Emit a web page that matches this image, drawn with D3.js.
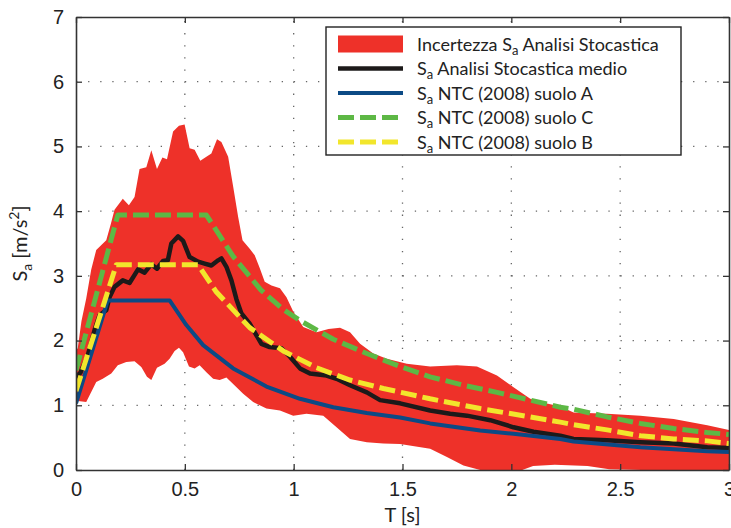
<!DOCTYPE html>
<html>
<head>
<meta charset="utf-8">
<script src="https://cdn.jsdelivr.net/npm/d3@7"></script>
<style>
  body { margin: 0; background: #fff; }
  svg { display: block; font-family: Lato, "DejaVu Sans", sans-serif; }
</style>
</head>
<body>
<div id="pane"></div>
<script>
// values: [T (s), Sa (m/s^2)]
const upperBand = [
  [0, 1.85], [0.008, 1.88], [0.025, 2.3], [0.047, 2.65], [0.07, 3.1], [0.093, 3.40],
  [0.139, 3.55], [0.16, 3.8], [0.177, 4.02], [0.215, 4.19], [0.243, 4.09], [0.269, 4.22],
  [0.292, 4.65], [0.323, 4.68], [0.346, 4.94], [0.372, 4.65], [0.397, 4.83], [0.418, 4.80],
  [0.446, 5.23], [0.473, 5.32], [0.499, 5.34], [0.522, 4.97], [0.545, 4.95], [0.571, 4.78],
  [0.599, 4.84], [0.622, 4.89], [0.648, 5.11], [0.668, 5.07], [0.699, 4.84], [0.722, 4.38],
  [0.745, 3.91], [0.765, 3.55], [0.798, 3.42], [0.821, 3.32], [0.844, 3.12], [0.867, 2.91],
  [0.898, 2.85], [0.937, 2.81], [0.967, 2.67], [0.998, 2.45], [1.044, 2.21], [1.105, 2.13],
  [1.16, 2.18], [1.213, 2.20], [1.259, 2.13], [1.305, 1.95], [1.366, 1.80], [1.428, 1.72],
  [1.52, 1.64], [1.627, 1.60], [1.75, 1.62], [1.842, 1.60], [1.934, 1.46], [2.01, 1.28],
  [2.087, 1.10], [2.133, 1.05], [2.225, 0.98], [2.286, 0.89], [2.44, 0.87], [2.593, 0.84],
  [2.746, 0.79], [2.9, 0.69], [3.0, 0.62]
];
const lowerBand = [
  [0, 1.07], [0.047, 1.05], [0.093, 1.36], [0.123, 1.41], [0.162, 1.49], [0.192, 1.62],
  [0.231, 1.67], [0.269, 1.68], [0.300, 1.59], [0.326, 1.44], [0.346, 1.39], [0.372, 1.58],
  [0.407, 1.64], [0.430, 1.72], [0.453, 1.84], [0.473, 1.89], [0.492, 1.82], [0.519, 1.60],
  [0.545, 1.57], [0.568, 1.62], [0.599, 1.51], [0.630, 1.41], [0.660, 1.39], [0.691, 1.43],
  [0.722, 1.33], [0.768, 1.18], [0.814, 1.05], [0.875, 0.95], [0.937, 0.92], [0.998, 0.84],
  [1.059, 0.87], [1.136, 0.84], [1.197, 0.66], [1.259, 0.48], [1.336, 0.43], [1.412, 0.41],
  [1.489, 0.40], [1.627, 0.33], [1.704, 0.20], [1.780, 0.07], [1.857, 0.0], [2.05, 0.0],
  [2.1, 0.06], [2.2, 0.08], [2.35, 0.06], [2.45, 0.01], [2.6, 0.0], [3.0, 0.0]
];
const meanSa = [
  [0, 1.44], [0.02, 1.5], [0.054, 1.77], [0.085, 2.16], [0.108, 2.39], [0.139, 2.47],
  [0.154, 2.67], [0.177, 2.83], [0.215, 2.93], [0.246, 2.89], [0.285, 3.10], [0.315, 3.05],
  [0.346, 3.18], [0.372, 3.11], [0.400, 3.23], [0.422, 3.24], [0.438, 3.50], [0.469, 3.61],
  [0.492, 3.54], [0.522, 3.29], [0.561, 3.22], [0.591, 3.19], [0.622, 3.16], [0.653, 3.24],
  [0.668, 3.27], [0.691, 3.14], [0.714, 2.93], [0.737, 2.64], [0.760, 2.42], [0.798, 2.26],
  [0.852, 1.95], [0.890, 1.90], [0.944, 1.88], [0.983, 1.75], [1.029, 1.57], [1.075, 1.49],
  [1.151, 1.46], [1.197, 1.41], [1.259, 1.31], [1.336, 1.20], [1.397, 1.08], [1.489, 1.03],
  [1.627, 0.92], [1.719, 0.87], [1.796, 0.84], [1.903, 0.77], [2.010, 0.66], [2.102, 0.59],
  [2.225, 0.53], [2.286, 0.48], [2.44, 0.46], [2.593, 0.43], [2.746, 0.41], [2.9, 0.35],
  [3.0, 0.34]
];
const ntcA = [
  [0, 1.03], [0.146, 2.62], [0.430, 2.62], [0.507, 2.24], [0.584, 1.93], [0.722, 1.57],
  [0.875, 1.29], [1.029, 1.10], [1.182, 0.97], [1.336, 0.88], [1.489, 0.81], [1.627, 0.72],
  [1.857, 0.61], [2.010, 0.56], [2.225, 0.48], [2.286, 0.44], [2.593, 0.35], [2.9, 0.29],
  [3.0, 0.28]
];
const ntcC = [
  [0, 1.54], [0.192, 3.94], [0.599, 3.94], [0.722, 3.30], [0.85, 2.78], [0.952, 2.48],
  [1.029, 2.31], [1.182, 2.02], [1.336, 1.80], [1.489, 1.60], [1.627, 1.44], [1.780, 1.31],
  [1.934, 1.20], [2.087, 1.08], [2.225, 0.97], [2.286, 0.94], [2.44, 0.82], [2.593, 0.72],
  [2.746, 0.64], [2.9, 0.58], [3.0, 0.55]
];
const ntcB = [
  [0, 1.22], [0.185, 3.17], [0.561, 3.17], [0.645, 2.75], [0.798, 2.20], [0.952, 1.84],
  [1.105, 1.58], [1.259, 1.39], [1.412, 1.26], [1.627, 1.10], [1.857, 0.95], [2.087, 0.82],
  [2.225, 0.74], [2.286, 0.70], [2.44, 0.62], [2.593, 0.53], [2.746, 0.48], [2.9, 0.45],
  [3.0, 0.41]
];
const xTicks = [0, 0.5, 1, 1.5, 2, 2.5, 3];
const yTicks = [0, 1, 2, 3, 4, 5, 6, 7];
const legendLabels = [
  "Incertezza |Analisi Stocastica",
  "|Analisi Stocastica medio",
  "|NTC (2008) suolo A",
  "|NTC (2008) suolo C",
  "|NTC (2008) suolo B"
];

const W = 731, H = 528;
const margin = { top: 17, right: 2, bottom: 58, left: 76 };
const width = W - margin.left - margin.right,
  height = H - margin.top - margin.bottom;

const red = "#ee3129", blue = "#0c4a85", green = "#5db845", yellow = "#f2e62c", black = "#1c1a1a";

const svg = d3.select("#pane").append("svg").attr("width", W).attr("height", H);
const g = svg.append("g").attr("transform", `translate(${margin.left},${margin.top})`);

const x = d3.scaleLinear().domain([0, 3]).range([0, width]);
const y = d3.scaleLinear().domain([0, 7]).range([height, 0]);

// dotted grid
g.append("g").selectAll("line").data(yTicks.slice(1, -1)).join("line")
  .attr("x1", 0).attr("x2", width)
  .attr("y1", d => y(d)).attr("y2", d => y(d))
  .attr("stroke", "#666").attr("stroke-width", 1.3).attr("stroke-dasharray", "1.3,10.8");
g.append("g").selectAll("line").data(xTicks.slice(1, -1)).join("line")
  .attr("y1", height).attr("y2", 0)
  .attr("x1", d => x(d)).attr("x2", d => x(d))
  .attr("stroke", "#666").attr("stroke-width", 1.3).attr("stroke-dasharray", "1.3,10.8");

g.append("clipPath").attr("id", "clip").append("rect")
  .attr("width", width).attr("height", height);
const plot = g.append("g").attr("clip-path", "url(#clip)");

const line = d3.line().x(d => x(d[0])).y(d => y(d[1]));

// uncertainty band: upper edge out, lower edge back
plot.append("path")
  .attr("d", line.curve(d3.curveLinearClosed)(upperBand.concat(lowerBand.slice().reverse())))
  .attr("fill", red);
line.curve(d3.curveLinear);

const series = [
  { data: meanSa, color: black, w: 4.5, dash: null },
  { data: ntcA, color: blue, w: 4, dash: null },
  { data: ntcC, color: green, w: 5, dash: "16,6" },
  { data: ntcB, color: yellow, w: 5, dash: "16,6" }
];
series.forEach(s => {
  plot.append("path").attr("d", line(s.data))
    .attr("fill", "none").attr("stroke", s.color).attr("stroke-width", s.w)
    .attr("stroke-dasharray", s.dash).attr("stroke-linejoin", "round");
});

// axes: box with inward ticks on all four sides
const fontSize = 20;
const axB = g.append("g").attr("transform", `translate(0,${height})`)
  .call(d3.axisBottom(x).tickValues(xTicks).tickSizeInner(-6).tickSizeOuter(0).tickPadding(12).tickFormat(d3.format("")));
const axT = g.append("g").call(d3.axisTop(x).tickValues(xTicks).tickSizeInner(-6).tickSizeOuter(0).tickFormat(""));
const axL = g.append("g")
  .call(d3.axisLeft(y).tickValues(yTicks).tickSizeInner(-6).tickSizeOuter(0).tickPadding(12).tickFormat(d3.format("")));
const axR = g.append("g").attr("transform", `translate(${width},0)`)
  .call(d3.axisRight(y).tickValues(yTicks).tickSizeInner(-6).tickSizeOuter(0).tickFormat(""));
[axB, axT, axL, axR].forEach(a => {
  a.select(".domain").attr("stroke", "#333").attr("stroke-width", 1.6);
  a.selectAll(".tick line").attr("stroke", "#333").attr("stroke-width", 1.3);
  a.selectAll("text").attr("font-size", fontSize).attr("fill", "#222").attr("font-family", null);
});

// axis titles
svg.append("text").attr("x", margin.left + x(1.5)).attr("y", 522)
  .attr("text-anchor", "middle").attr("font-size", fontSize).attr("fill", "#222").text("T [s]");
const yl = svg.append("text")
  .attr("transform", `translate(27,${margin.top + height / 2}) rotate(-90)`)
  .attr("text-anchor", "middle").attr("font-size", fontSize).attr("fill", "#222");
yl.append("tspan").text("S");
yl.append("tspan").attr("font-size", 14).attr("dy", 5).text("a");
yl.append("tspan").attr("dy", -5).text(" [m/s");
yl.append("tspan").attr("font-size", 14).attr("dy", -8).text("2");
yl.append("tspan").attr("dy", 8).text("]");

// legend
const lg = svg.append("g").attr("transform", "translate(326,27)");
lg.append("rect").attr("width", 355).attr("height", 128)
  .attr("fill", "#fff").attr("stroke", "#222").attr("stroke-width", 1.4);
const legendRows = [
  { type: "area" }, series[0], series[1], series[2], series[3]
];
legendRows.forEach((r, i) => {
  const cy = 17 + i * 24.5;
  if (r.type === "area") {
    lg.append("rect").attr("x", 12).attr("y", cy - 8.5).attr("width", 65).attr("height", 17).attr("fill", red);
  } else {
    lg.append("line").attr("x1", 12).attr("x2", 77).attr("y1", cy).attr("y2", cy)
      .attr("stroke", r.color).attr("stroke-width", r.w).attr("stroke-dasharray", r.dash);
  }
  const t = lg.append("text").attr("x", 91).attr("y", cy + 6.5).attr("font-size", 18).attr("fill", "#222");
  const parts = legendLabels[i].split("|");
  t.append("tspan").text(parts[0] + "S");
  t.append("tspan").attr("font-size", 13).attr("dy", 4).text("a");
  t.append("tspan").attr("dy", -4).text(" " + parts[1]);
});
</script>
</body>
</html>
